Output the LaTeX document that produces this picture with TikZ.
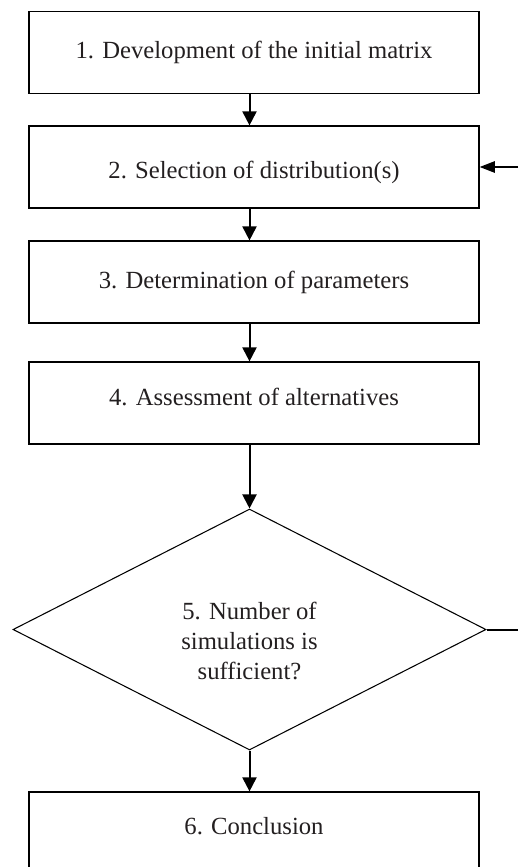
\documentclass[tikz,border=0pt]{standalone}
\usepackage{fontspec}
\setmainfont{Liberation Serif}
\usetikzlibrary{shapes.geometric,arrows.meta}
\definecolor{txtgray}{HTML}{231F20}
\begin{document}
\begin{tikzpicture}[x=0.75pt,y=-0.75pt,
  box/.style={draw=black,line width=0.9pt,minimum width=337.5pt,minimum height=61.5pt,inner sep=0pt},
  txt/.style={text=txtgray,font=\fontsize{18.5}{22.3}\selectfont,align=center,inner sep=0pt},
  flow/.style={line width=1.5pt,-{Triangle[length=10.5pt,width=10.5pt]}},
  flowr/.style={line width=1.5pt,-{Triangle[length=11.5pt,width=8.5pt]}},
  plain/.style={line width=1.5pt},
  dec/.style={diamond,draw=black,line width=0.8pt,minimum width=354.75pt,minimum height=180.75pt,inner sep=0pt}
]
\useasboundingbox (0,0) rectangle (518,867);
\clip (0,0) rectangle (518,867);

\node[box] (b1) at (254,52.5) {};
\node[box] (b2) at (254,167) {};
\node[box] (b3) at (254,282) {};
\node[box] (b4) at (254,403) {};
\node[dec] (d) at (249.5,629.5) {};
\node[box] (b6) at (254,833) {};

\node[txt,anchor=base] (t1) at (254,59) {1. Development of the initial matrix};
\node[txt,anchor=base] (t2) at (254,178) {2. Selection of distribution(s)};
\node[txt,anchor=base] (t3) at (254,288) {3. Determination of parameters};
\node[txt,anchor=base] (t4) at (254,405) {4. Assessment of alternatives};
\node[txt] (t5) at (249.5,641) {5. Number of\\simulations is\\sufficient?};
\node[txt,anchor=base] (t6) at (254,834) {6. Conclusion};

\draw[flow] (b1.south -| d.north) -- (b2.north -| d.north);
\draw[flow] (b2.south -| d.north) -- (b3.north -| d.north);
\draw[flow] (b3.south -| d.north) -- (b4.north -| d.north);
\draw[flow] (b4.south -| d.north) -- (d.north);
\draw[flow] (d.south) -- (b6.north -| d.south);

\coordinate (rin) at (518,167);
\coordinate (rout) at (518,629.5);
\draw[flowr] (rin) -- (b2.east);
\draw[plain] (d.east) -- (rout);
\end{tikzpicture}
\end{document}
